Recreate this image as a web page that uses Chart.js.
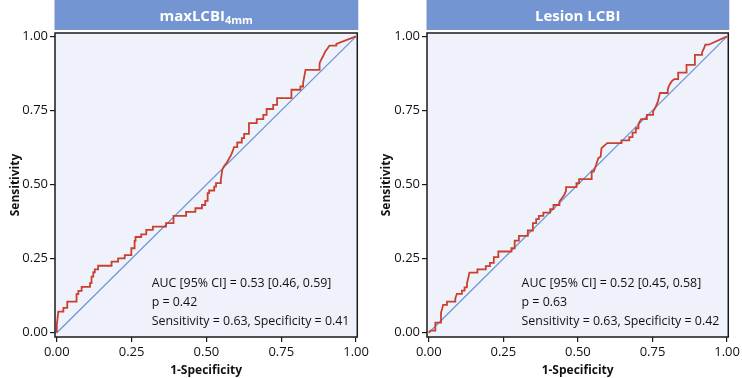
<!DOCTYPE html>
<html><head><meta charset="utf-8">
<script src="https://cdn.jsdelivr.net/npm/chart.js@4/dist/chart.umd.min.js"></script>
<style>
html,body{margin:0;padding:0;background:#fff;width:742px;height:378px;overflow:hidden}
.p{position:absolute;top:0;height:378px}
canvas{display:block}
</style></head><body>
<div class="p" style="left:0;width:371px"><canvas id="c1" width="371" height="378"></canvas></div>
<div class="p" style="left:371px;width:371px"><canvas id="c2" width="371" height="378"></canvas></div>
<script>
const tickValues = [0, 0.25, 0.5, 0.75, 1];
const diagonal = [[0, 0], [1, 1]];

const maxTitle = "maxLCBI", maxTitleSub = "4mm";
const maxStats = ["AUC [95% CI] = 0.53 [0.46, 0.59]", "p = 0.42", "Sensitivity = 0.63, Specificity = 0.41"];
const maxRoc = [[0,0],[0,.026],[.005,.071],[.022,.071],[.022,.084],[.035,.084],[.035,.105],[.066,.105],[.066,.130],[.072,.130],[.072,.141],[.083,.141],[.083,.155],[.111,.155],[.111,.167],[.116,.167],[.116,.189],[.122,.189],[.122,.204],[.127,.204],[.127,.214],[.138,.214],[.138,.226],[.183,.226],[.183,.240],[.205,.240],[.205,.251],[.227,.251],[.227,.262],[.249,.262],[.249,.285],[.26,.285],[.26,.31],[.263,.31],[.263,.323],[.282,.323],[.282,.332],[.299,.332],[.299,.347],[.321,.347],[.321,.358],[.365,.358],[.365,.37],[.39,.37],[.39,.394],[.432,.394],[.432,.408],[.463,.408],[.463,.42],[.485,.42],[.485,.431],[.496,.431],[.496,.445],[.504,.445],[.504,.471],[.509,.471],[.509,.48],[.526,.48],[.526,.493],[.532,.493],[.532,.505],[.548,.505],[.548,.516],[.553,.55],[.559,.563],[.567,.572],[.573,.583],[.581,.597],[.587,.611],[.592,.626],[.603,.626],[.603,.642],[.618,.642],[.618,.657],[.626,.657],[.626,.671],[.64,.671],[.642,.685],[.642,.707],[.668,.707],[.668,.721],[.69,.721],[.69,.735],[.701,.735],[.701,.755],[.723,.755],[.723,.769],[.736,.769],[.736,.792],[.784,.792],[.784,.82],[.814,.82],[.814,.831],[.823,.831],[.823,.843],[.827,.865],[.831,.887],[.878,.887],[.878,.91],[.883,.921],[.889,.932],[.897,.949],[.905,.96],[.911,.969],[.934,.969],[.934,.975],[1,1]];

const lesionTitle = "Lesion LCBI", lesionTitleSub = "";
const lesionStats = ["AUC [95% CI] = 0.52 [0.45, 0.58]", "p = 0.63", "Sensitivity = 0.63, Specificity = 0.42"];
const lesionRoc = [[0,0],[.006,.007],[.022,.007],[.022,.034],[.041,.034],[.041,.068],[.045,.082],[.048,.094],[.061,.094],[.061,.105],[.089,.105],[.089,.116],[.094,.131],[.111,.131],[.111,.142],[.12,.142],[.12,.153],[.128,.153],[.128,.167],[.133,.187],[.136,.203],[.163,.203],[.163,.214],[.191,.214],[.191,.225],[.205,.225],[.205,.236],[.218,.236],[.218,.255],[.233,.255],[.233,.274],[.277,.274],[.277,.285],[.288,.285],[.288,.311],[.302,.311],[.302,.327],[.332,.327],[.332,.345],[.349,.345],[.349,.37],[.36,.37],[.36,.383],[.369,.383],[.369,.394],[.384,.394],[.384,.405],[.407,.405],[.407,.417],[.418,.417],[.418,.431],[.438,.431],[.438,.443],[.446,.454],[.454,.465],[.46,.479],[.46,.491],[.495,.491],[.495,.505],[.504,.505],[.504,.518],[.546,.518],[.546,.544],[.553,.544],[.561,.567],[.568,.589],[.576,.594],[.579,.623],[.598,.640],[.646,.640],[.646,.649],[.672,.649],[.672,.66],[.683,.66],[.683,.675],[.694,.675],[.694,.69],[.703,.69],[.703,.705],[.712,.721],[.731,.721],[.731,.735],[.752,.735],[.752,.747],[.760,.761],[.767,.777],[.771,.792],[.775,.809],[.801,.809],[.801,.82],[.805,.833],[.814,.848],[.823,.856],[.836,.856],[.836,.878],[.864,.878],[.864,.904],[.892,.904],[.892,.938],[.916,.938],[.916,.946],[.923,.961],[.927,.972],[.938,.972],[1,1]];

const FONT = '"Open Sans", "Noto Sans", sans-serif';
const HEADER = '#7396d2', PANEL_BG = '#eff2fa', RED = '#c9402e', BLUE = '#6f95d8';

function makeChart(id, roc, title, sub, stats, statsX, axisW, padRight) {
  const deco = {
    id: 'deco',
    beforeDatasetsDraw(chart) {
      const {ctx, chartArea: a} = chart;
      ctx.save();
      ctx.fillStyle = PANEL_BG;
      ctx.fillRect(a.left, a.top, a.right - a.left, a.bottom - a.top);
      ctx.restore();
    },
    beforeDraw(chart) {
      const {ctx, chartArea: a} = chart;
      ctx.save();
      ctx.fillStyle = HEADER;
      ctx.fillRect(a.left - 0.5, 0, a.right - a.left + 1.5, 30);
      ctx.fillStyle = '#fff';
      ctx.textBaseline = 'alphabetic';
      ctx.font = 'bold 15px ' + FONT;
      const w1 = ctx.measureText(title).width;
      ctx.font = 'bold 11px ' + FONT;
      const w2 = sub ? ctx.measureText(sub).width : 0;
      const cx = (a.left + a.right) / 2;
      let x = cx - (w1 + w2) / 2;
      ctx.textAlign = 'left';
      ctx.font = 'bold 15px ' + FONT;
      ctx.fillText(title, x, 20.5);
      if (sub) { ctx.font = 'bold 11px ' + FONT; ctx.fillText(sub, x + w1, 24); }
      ctx.restore();
    },
    afterDraw(chart) {
      const {ctx, chartArea: a, scales} = chart;
      ctx.save();
      ctx.strokeStyle = '#1a1a1a';
      ctx.lineWidth = 1.5;
      ctx.strokeRect(a.left, a.top, a.right - a.left, a.bottom - a.top);
      ctx.fillStyle = '#111';
      ctx.font = '12.4px ' + FONT;
      ctx.textAlign = 'left';
      ctx.textBaseline = 'middle';
      const x = scales.x.getPixelForValue(statsX);
      const offs = [54, 35, 16];
      stats.forEach((s, i) => ctx.fillText(s, x, a.bottom - offs[i]));
      ctx.restore();
    }
  };
  const tickOpts = {color: '#111', font: {family: FONT, size: 13}, callback: v => Number(v).toFixed(2)};
  return new Chart(document.getElementById(id), {
    type: 'scatter',
    data: {
      datasets: [
        {data: roc.map(p => ({x: p[0], y: p[1]})), showLine: true, borderColor: RED, borderWidth: 1.8, pointRadius: 0, tension: 0, fill: false, borderJoinStyle: 'miter'},
        {data: diagonal.map(p => ({x: p[0], y: p[1]})), showLine: true, borderColor: BLUE, borderWidth: 1.3, pointRadius: 0, tension: 0, fill: false}
      ]
    },
    options: {
      responsive: false, animation: false, events: [],
      layout: {padding: {top: 33, right: padRight, bottom: 0, left: 0}},
      plugins: {legend: {display: false}, tooltip: {enabled: false}, title: {display: false}},
      scales: {
        x: {
          type: 'linear', min: -0.006, max: 1.004,
          afterBuildTicks: s => { s.ticks = tickValues.map(v => ({value: v})); },
          afterFit: s => { s.height = 41; },
          ticks: Object.assign({padding: 2, maxRotation: 0, autoSkip: false}, tickOpts),
          grid: {display: true, drawOnChartArea: false, drawTicks: true, tickLength: 5, color: '#1a1a1a', lineWidth: 1.2},
          border: {display: false},
          title: {display: true, text: '1-Specificity', color: '#111', font: {family: FONT, size: 12, weight: 'bold'}, padding: {top: 0, bottom: 0}}
        },
        y: {
          type: 'linear', min: -0.0145, max: 1.0115,
          afterBuildTicks: s => { s.ticks = tickValues.map(v => ({value: v})); },
          afterFit: s => { s.width = axisW; },
          ticks: Object.assign({padding: 2, autoSkip: false}, tickOpts),
          grid: {display: true, drawOnChartArea: false, drawTicks: true, tickLength: 5, color: '#1a1a1a', lineWidth: 1.2},
          border: {display: false},
          title: {display: true, text: 'Sensitivity', color: '#111', font: {family: FONT, size: 12, weight: 'bold'}, padding: {top: 8, bottom: 0}}
        }
      }
    },
    plugins: [deco]
  });
}
makeChart('c1', maxRoc, maxTitle, maxTitleSub, maxStats, 0.317, 55, 12);
makeChart('c2', lesionRoc, lesionTitle, lesionTitleSub, lesionStats, 0.311, 56, 11);
</script>
</body></html>
